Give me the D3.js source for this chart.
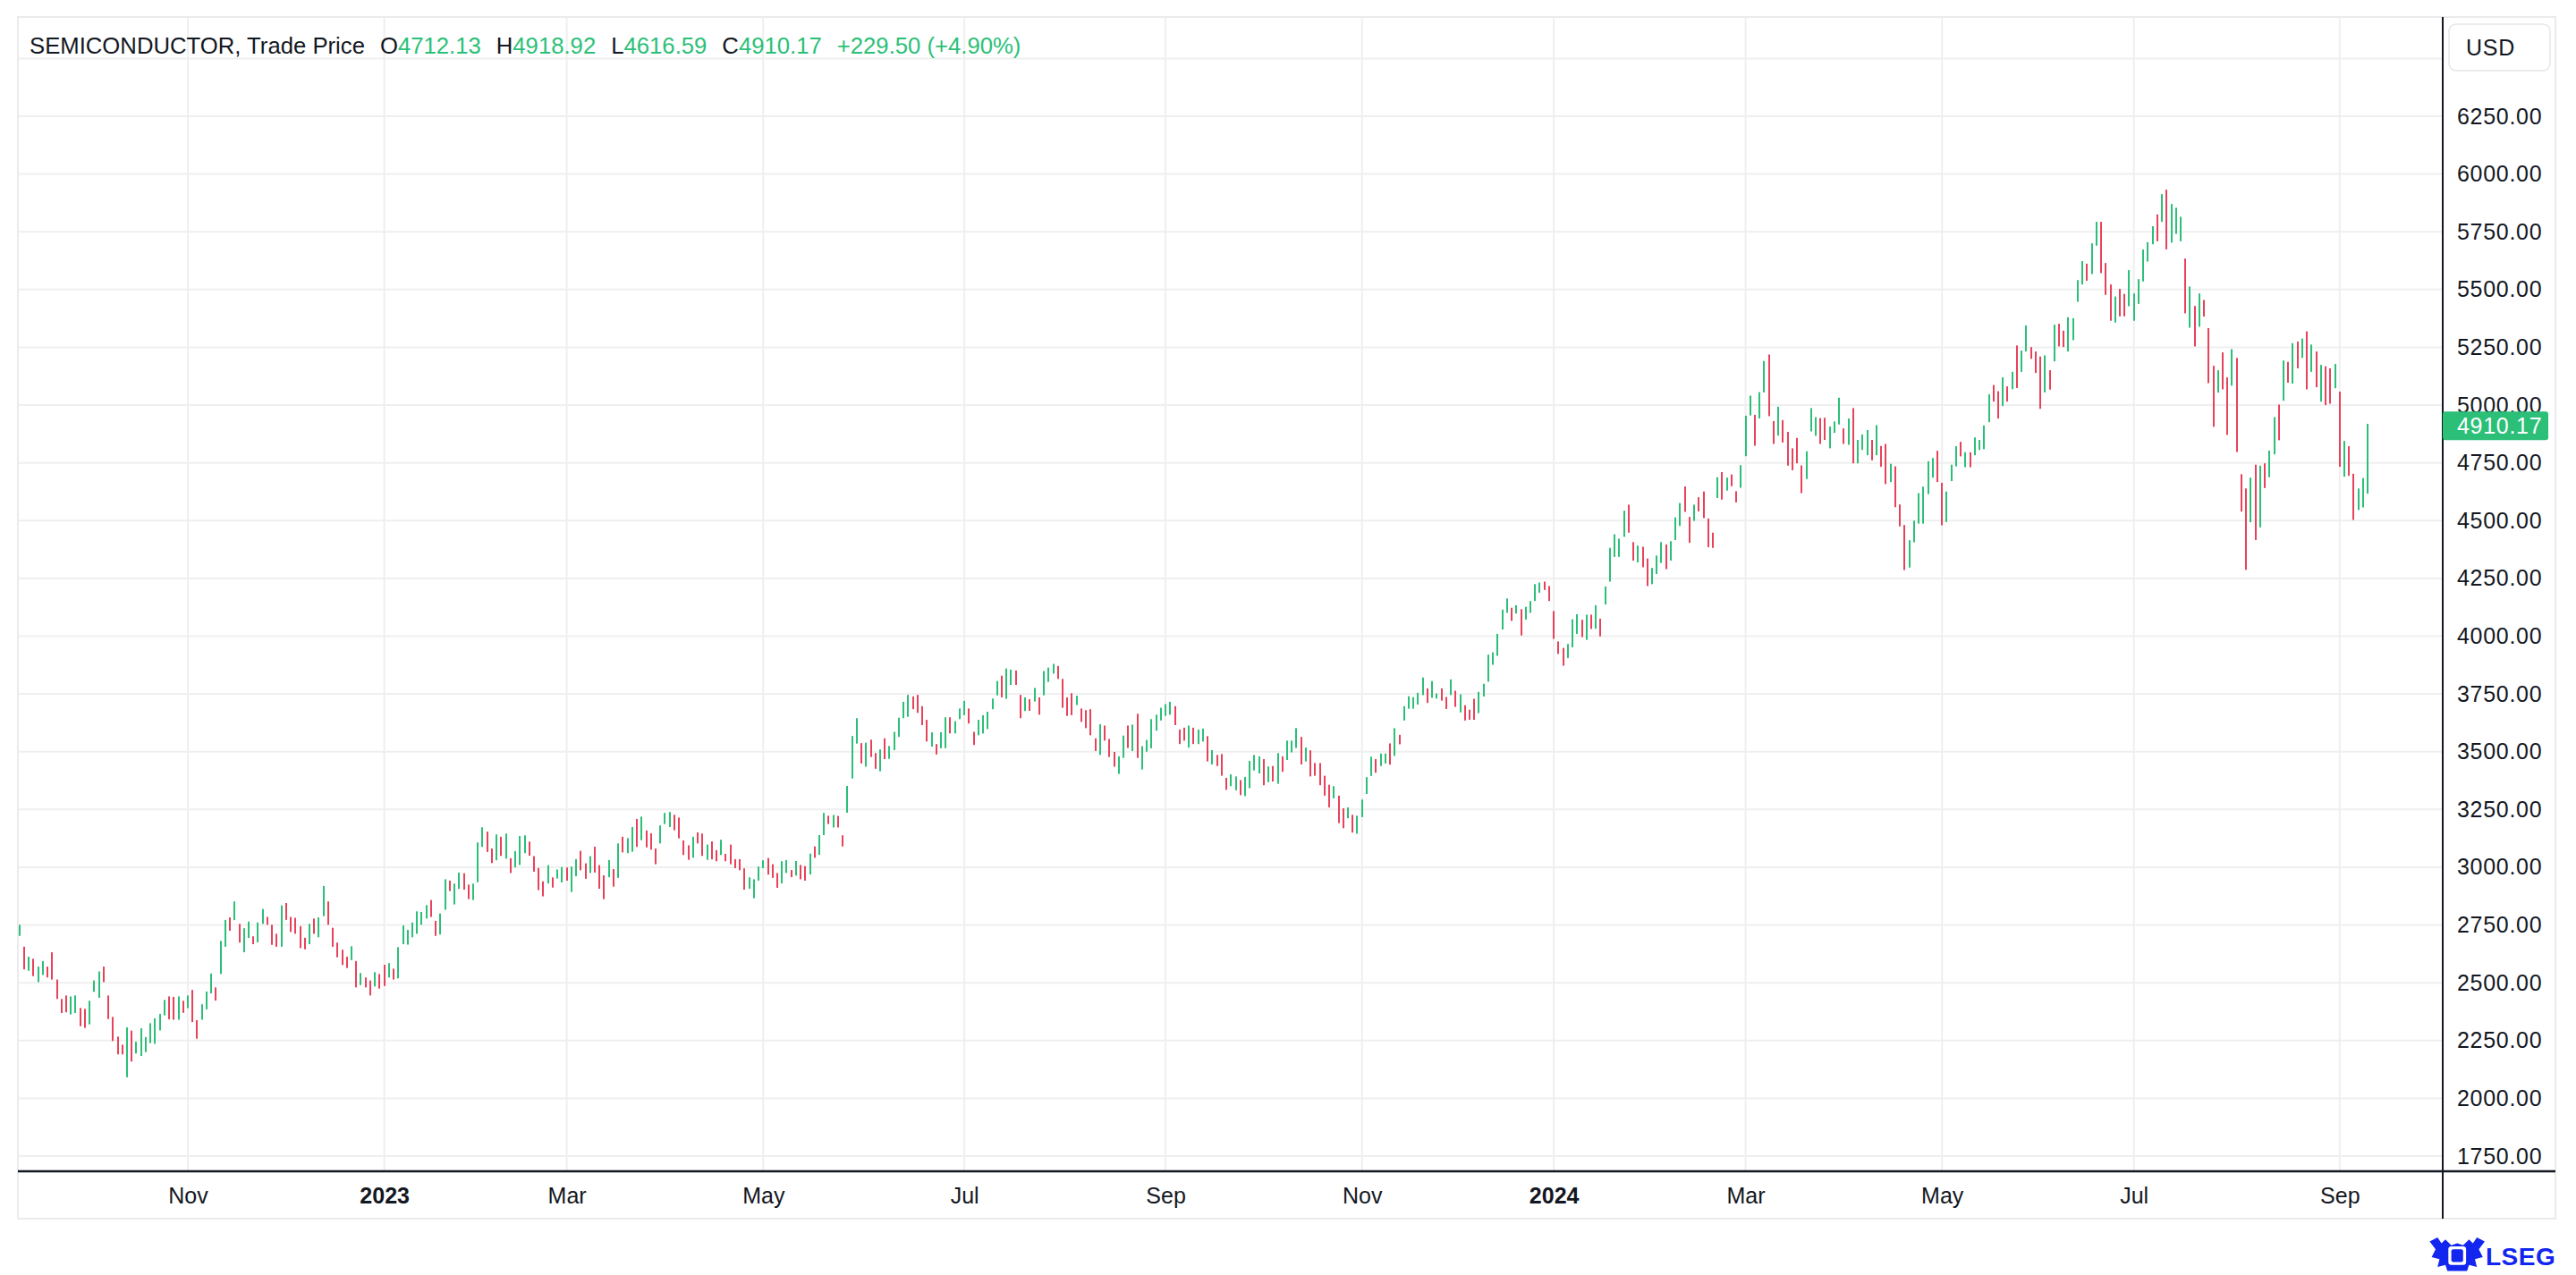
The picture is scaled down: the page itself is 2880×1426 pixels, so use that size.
<!DOCTYPE html>
<html>
<head>
<meta charset="utf-8">
<script src="https://cdn.jsdelivr.net/npm/d3@7"></script>
<style>
  html, body { margin: 0; padding: 0; background: #fff; }
  svg { display: block; font-family: "Liberation Sans", Arial, Helvetica, sans-serif; }
</style>
</head>
<body>
<div id="chart"></div>
<script>
// Daily bars, 12 Sep 2022 .. 11 Sep 2024 (one row per month)
const highs = [
  2751,2656,2613,2604,2570,2594,2570,2632,2514,2430,2445,2441,2445,2391,2387, // Sep 22
  2422,2510,2549,2570,2445,2352,2267,2232,2307,2293,2245,2303,2265,2325,2346,2365,2426,2441,2439,2441,2422, // Oct
  2445,2469,2338,2407,2462,2540,2480,2681,2772,2783,2852,2755,2736,2765,2701,2761,2819,2785,2751,2712,2835, // Nov
  2845,2785,2781,2745,2695,2755,2778,2783,2919,2852,2738,2674,2643,2613,2658,2594,2542,2523,2510,2546,2538, // Dec
  2578,2585,2561,2654,2748,2729,2761,2809,2806,2836,2858,2768,2800,2948,2942,2929,2977,2974,2925,2929, // Jan 23
  3107,3173,3154,3081,3142,3132,3146,3039,3070,3135,3138,3111,3048,2997,2939,3009,2956,2990,3001, // Feb
  2999,3003,3035,3071,3017,3048,3089,3009,2965,3031,2992,3103,3132,3126,3174,3209,3219,3159,3147,3081,3181,3235,3239, // Mar
  3227,3215,3116,3095,3132,3151,3146,3098,3112,3074,3119,3058,3098,3035,3035,2995,2956,2948,3003, // Apr
  3030,3040,3013,2975,3026,3031,2988,3027,3010,3005,3059,3090,3139,3235,3223,3226,3222,3138,3352,3568,3645,3537, // May
  3539,3552,3494,3510,3558,3525,3586,3647,3716,3746,3739,3746,3697,3638,3584,3533,3584,3649,3649,3632,3687, // Jun
  3720,3687,3586,3638,3658,3673,3730,3806,3829,3860,3855,3851,3746,3735,3727,3776,3735,3849,3864,3880, // Jul
  3871,3815,3735,3753,3742,3687,3680,3684,3558,3619,3613,3555,3499,3480,3570,3613,3617,3664,3524,3551,3641,3660,3690, // Aug
  3706,3716,3697,3596,3604,3613,3604,3596,3600,3567,3507,3486,3490,3387,3402,3393,3377,3391,3460,3486, // Sep
  3480,3468,3436,3438,3494,3480,3548,3548,3602,3564,3518,3506,3451,3451,3396,3357,3351,3310,3255,3259,3227,3223, // Oct
  3293,3390,3478,3468,3492,3492,3536,3602,3573,3697,3740,3736,3755,3821,3774,3806,3752,3774,3737,3813,3764, // Nov
  3748,3701,3682,3729,3759,3794,3920,3930,4010,4115,4163,4123,4134,4117,4127,4152,4225,4232,4236,4217, // Dec
  4109,3977,3949,3966,4073,4095,4071,4093,4093,4134,4076,4215,4382,4441,4422,4543,4569,4407,4392,4387,4336, // Jan 24
  4295,4349,4407,4397,4411,4514,4576,4648,4516,4569,4601,4626,4509,4448,4688,4710,4686,4700,4627,4740, // Feb
  4954,5041,4958,5056,5191,5219,4931,4993,4935,4884,4813,4858,4739,4800,4987,4948,4944,4945,4907,4929, // Mar
  5032,4899,4942,4987,4849,4873,4892,4849,4913,4823,4832,4746,4735,4570,4481,4415,4500,4619,4647,4757,4771,4802, // Apr
  4664,4626,4742,4822,4841,4796,4796,4860,4849,4912,5047,5087,5060,5120,5081,5144,5258,5236,5345,5251,5232,5210, // May
  5215,5151,5348,5352,5322,5380,5376,5541,5623,5612,5700,5793,5793,5615,5522,5470,5503,5481,5584, // Jun
  5483,5545,5673,5705,5774,5825,5913,5932,5870,5854,5815,5634,5513,5429,5483,5455,5333,5170,5151,5228,5120,5242, // Jul
  5204,4701,4639,4686,4742,4738,4748,4803,4948,5002,5193,5187,5268,5275,5288,5319,5262,5232,5174,5168,5159,5178, // Aug
  5058,4845,4822,4703,4639,4684,4918.92 // Sep
];

const lows = [
  2703,2558,2552,2529,2503,2534,2523,2514,2430,2369,2372,2363,2369,2312,2305,
  2320,2461,2435,2503,2343,2248,2190,2190,2091,2159,2194,2183,2200,2239,2236,2294,2359,2342,2340,2340,2370,
  2390,2330,2258,2340,2385,2454,2423,2538,2656,2725,2771,2674,2632,2694,2667,2675,2755,2751,2664,2656,2656,
  2772,2720,2712,2650,2645,2667,2712,2697,2788,2751,2656,2610,2577,2564,2598,2480,2490,2480,2445,2484,2475,
  2486,2523,2514,2519,2667,2665,2697,2712,2751,2778,2785,2703,2709,2816,2897,2839,2906,2903,2862,2858,
  2935,3088,3066,3018,3030,3049,3037,2975,2999,3010,3061,3050,2981,2901,2874,2930,2912,2951,2934,
  2942,2893,2961,2987,2950,2975,2977,2907,2862,2957,2916,2954,3064,3061,3067,3088,3117,3086,3076,3013,3103,3187,3174,
  3160,3125,3053,3032,3041,3103,3049,3032,3034,3026,3053,3026,3013,2996,2987,2903,2907,2866,2942,
  2996,2968,2954,2911,2930,2975,2957,2964,2948,2942,2969,3041,3054,3139,3187,3172,3172,3090,3236,3384,3535,3449,
  3435,3477,3426,3415,3468,3469,3507,3564,3645,3651,3684,3668,3615,3544,3522,3488,3515,3515,3579,3579,3641,
  3658,3622,3529,3571,3579,3598,3684,3744,3735,3729,3789,3789,3645,3676,3677,3717,3660,3744,3802,3838,
  3815,3690,3655,3658,3702,3629,3602,3571,3503,3486,3548,3477,3435,3404,3473,3516,3503,3473,3423,3500,3515,3591,3635,
  3655,3660,3615,3533,3548,3518,3533,3533,3544,3458,3445,3438,3396,3335,3351,3333,3312,3308,3342,3419,
  3406,3355,3368,3371,3361,3413,3464,3497,3516,3445,3458,3393,3396,3355,3310,3259,3298,3191,3169,3212,3150,3145,
  3217,3317,3395,3409,3438,3449,3444,3482,3532,3635,3686,3686,3704,3745,3711,3733,3730,3721,3685,3745,3694,
  3670,3635,3638,3638,3667,3739,3803,3876,3915,4029,4101,4066,4098,4003,4072,4101,4152,4188,4200,4152,
  3988,3923,3872,3905,3952,4010,3996,3984,4031,4032,3999,4137,4236,4343,4343,4430,4448,4327,4319,4298,4217,
  4225,4269,4317,4290,4327,4416,4477,4538,4404,4499,4540,4511,4385,4382,4598,4591,4630,4649,4579,4642,
  4779,4955,4824,4942,5055,4952,4832,4868,4838,4738,4718,4748,4619,4680,4886,4867,4832,4849,4813,4880,
  4916,4832,4828,4748,4748,4806,4783,4761,4783,4733,4658,4667,4558,4475,4286,4297,4406,4487,4487,4615,4686,4667,
  4480,4494,4671,4735,4778,4731,4731,4783,4806,4809,4926,5015,4942,4996,5015,5069,5074,5144,5232,5200,5139,4984,
  5055,5067,5189,5254,5251,5232,5281,5447,5522,5538,5567,5690,5571,5477,5365,5357,5384,5384,5428,
  5365,5438,5535,5621,5696,5709,5793,5674,5703,5741,5709,5397,5335,5254,5339,5383,5095,4906,5054,5068,4871,5084,
  4797,4539,4287,4493,4416,4471,4641,4688,4787,4848,5019,5097,5093,5159,5204,5068,5144,5077,5015,5000,5006,5073,
  4733,4690,4694,4503,4546,4557,4616.59
];

// u = closed up (green), d = closed down (red)
const moves = [
  'u d u d u u d d d d d u u d d',
  'u u u d d d d d u d u u u u u u u d d u d',
  'u d d u u u d u u d u d u u d u u d d d u',
  'd d d d d u d u u d d d d d u d u d d u d',
  'd u d u u u u u u u d d u u d u u d d u',
  'u u d d u d u d u u u d d d d u d u u',
  'd u u d d u d d d u d u d u u d u d d d u u u',
  'd d d d u d d u d d u d d d d d u u u',
  'u d d d u u d u d d u d u u d u d d u u u d',
  'u d d u d u u u u u d d d d u d u u d u u',
  'u d d u u u u u d u u d d u d u d u u u',
  'd d d d u d d d d u d d d u u d u d u u u u u',
  'u u d d d u d u u d u d d d u u d u u u',
  'u d u d u d u u u d u d d d d d u d d u d u',
  'u u u d u u d u d u u u u u d u u d d u d',
  'u d d d u u u u u u u d u d u u u u d d',
  'd d d u u u d u d u d u u u u u d d u d d',
  'u u u d u u u d d u d d d d u d u d d u',
  'u u d u u d d u d d d d d u u u d d u u',
  'u d u d u u u d u d d u d d d u u u u u u d',
  'd u u u d u d u u u u d d u d u d u u d d d',
  'u d u d d u u u u d u u d d d u d d u',
  'u u u u u d u d u u u d u d u d d d u d d u',
  'd d d u d u d u u d u d u d u d u d u d d u',
  'd u d d u u u'
].join(' ').split(/\s+/);

// Month ticks: bar index of the first session of the month
const tickIdx = [36, 78, 117, 159, 202, 245, 287, 328, 369, 411, 452, 496];
const tickLabels = ['Nov', '2023', 'Mar', 'May', 'Jul', 'Sep', 'Nov', '2024', 'Mar', 'May', 'Jul', 'Sep'];
const priceTicks = d3.range(1750, 6251, 250);
const gridPrices = d3.range(1750, 6501, 250);

// Header quote
const title = 'SEMICONDUCTOR, Trade Price';
const quoteKeys = ['O', 'H', 'L', 'C'];
const quoteValues = ['4712.13', '4918.92', '4616.59', '4910.17'];
const changeText = '+229.50 (+4.90%)';
const lastClose = 4910.17;

const upColor = '#2bbf78';
const downColor = '#e8425b';
const inkColor = '#131722';
const gridColor = '#efefef';
const brandColor = '#1226f0';

const width = 2880;
const height = 1426;
const plot = { left: 20, right: 2731, top: 19, bottom: 1310 };
const panelRight = 2857;
const stripBottom = 1363;

const svg = d3.select('#chart')
    .append('svg')
    .attr('width', width)
    .attr('height', height);

// Scales
const xScale = d3.scaleLinear()
    .domain([-0.325, 518.03])
    .range([plot.left, plot.right]);

const yScale = d3.scaleLinear()
    .domain([1750, 6250])
    .range([1293, 130]);

// Outer frame
svg.append('rect')
    .attr('x', plot.left)
    .attr('y', plot.top)
    .attr('width', panelRight - plot.left)
    .attr('height', stripBottom - plot.top)
    .attr('fill', 'none')
    .attr('stroke', '#ebebeb')
    .attr('stroke-width', 2);

// Grid
const grid = svg.append('g').attr('class', 'grid');

grid.selectAll('.h-grid')
    .data(gridPrices)
    .enter()
    .append('line')
    .attr('class', 'h-grid')
    .attr('x1', plot.left)
    .attr('x2', plot.right)
    .attr('y1', d => yScale(d))
    .attr('y2', d => yScale(d))
    .style('stroke', gridColor)
    .style('stroke-width', 2);

grid.selectAll('.v-grid')
    .data(tickIdx)
    .enter()
    .append('line')
    .attr('class', 'v-grid')
    .attr('x1', d => xScale(d))
    .attr('x2', d => xScale(d))
    .attr('y1', plot.top)
    .attr('y2', plot.bottom)
    .style('stroke', gridColor)
    .style('stroke-width', 2);

// Bars (high-low)
svg.append('g')
    .attr('class', 'bars')
    .selectAll('rect')
    .data(highs.map((h, i) => ({ i, high: h, low: lows[i], up: moves[i] === 'u' })))
    .enter()
    .append('rect')
    .attr('x', d => Math.round(xScale(d.i)) - 1)
    .attr('y', d => yScale(d.high))
    .attr('width', 2)
    .attr('height', d => Math.max(1, yScale(d.low) - yScale(d.high)))
    .style('fill', d => d.up ? upColor : downColor);

// Y axis (right)
const yAxis = d3.axisRight(yScale)
    .tickValues(priceTicks)
    .tickFormat(d3.format('.2f'))
    .tickSize(0)
    .tickPadding(16);

const yAxisG = svg.append('g')
    .attr('class', 'y-axis')
    .attr('transform', `translate(${plot.right},0)`)
    .call(yAxis);
yAxisG.select('.domain').remove();
yAxisG.selectAll('text')
    .attr('fill', inkColor)
    .style('font-size', '25px')
    .style('letter-spacing', '0.7px');

// X axis (bottom)
const xAxis = d3.axisBottom(xScale)
    .tickValues(tickIdx)
    .tickFormat((d, i) => tickLabels[i])
    .tickSize(0)
    .tickPadding(18);

const xAxisG = svg.append('g')
    .attr('class', 'x-axis')
    .attr('transform', `translate(0,${plot.bottom})`)
    .call(xAxis);
xAxisG.select('.domain').remove();
xAxisG.selectAll('text')
    .attr('fill', inkColor)
    .style('font-size', '25px')
    .style('font-weight', (d, i) => /^\d{4}$/.test(tickLabels[i]) ? 'bold' : 'normal');

// Axis lines
svg.append('line')
    .attr('x1', plot.left)
    .attr('x2', panelRight)
    .attr('y1', plot.bottom)
    .attr('y2', plot.bottom)
    .style('stroke', inkColor)
    .style('stroke-width', 2.5);

svg.append('line')
    .attr('x1', plot.right)
    .attr('x2', plot.right)
    .attr('y1', plot.top)
    .attr('y2', stripBottom)
    .style('stroke', inkColor)
    .style('stroke-width', 2);

// Last price tag
const tagY = yScale(lastClose);
svg.append('rect')
    .attr('x', plot.right)
    .attr('y', tagY - 16)
    .attr('width', 118)
    .attr('height', 32)
    .attr('rx', 3)
    .style('fill', upColor);
svg.append('text')
    .attr('x', plot.right + 16)
    .attr('y', tagY)
    .attr('dy', '0.35em')
    .attr('fill', '#fff')
    .style('font-size', '25px')
    .style('letter-spacing', '0.7px')
    .text(d3.format('.2f')(lastClose));

// Currency box
svg.append('rect')
    .attr('x', 2738)
    .attr('y', 27)
    .attr('width', 113)
    .attr('height', 52)
    .attr('rx', 8)
    .style('fill', '#fff')
    .style('stroke', '#e6e6e6')
    .style('stroke-width', 1.5);
svg.append('text')
    .attr('x', 2757)
    .attr('y', 53)
    .attr('dy', '0.35em')
    .attr('fill', inkColor)
    .style('font-size', '25px')
    .style('letter-spacing', '0.7px')
    .text('USD');

// Header legend
const header = svg.append('g').attr('class', 'header').style('font-size', '25.7px');
let hx = 33;
const headerY = 60;
const titleText = header.append('text')
    .attr('x', hx)
    .attr('y', headerY)
    .attr('fill', inkColor)
    .text(title);
hx += titleText.node().getComputedTextLength() + 17;

quoteKeys.forEach((k, i) => {
    const t = header.append('text')
        .attr('x', hx)
        .attr('y', headerY);
    t.append('tspan').attr('fill', inkColor).text(k);
    t.append('tspan').attr('fill', upColor).text(quoteValues[i]);
    hx += t.node().getComputedTextLength() + 17;
});

header.append('text')
    .attr('x', hx)
    .attr('y', headerY)
    .attr('fill', upColor)
    .text(changeText);

// LSEG mark
const logo = svg.append('g')
    .attr('class', 'logo')
    .attr('transform', 'translate(2712,1384) scale(1.1)');
logo.append('path')
    .attr('d', 'M4,4 L12,0 L16,6 L20,2 L26,8 L32,6 L38,8 L44,2 L48,6 L52,0 L60,4 L54,12 L58,20 L50,22 L52,30 L44,28 L42,34 L22,34 L20,28 L12,30 L14,22 L6,20 L10,12 Z')
    .style('fill', brandColor);
logo.append('rect')
    .attr('x', 23).attr('y', 9).attr('width', 18).attr('height', 19).attr('rx', 3)
    .style('fill', '#fff');
logo.append('rect')
    .attr('x', 26).attr('y', 12).attr('width', 12).attr('height', 13).attr('rx', 2)
    .style('fill', brandColor);
svg.append('text')
    .attr('x', 2779)
    .attr('y', 1415)
    .attr('fill', brandColor)
    .style('font-size', '28px')
    .style('font-weight', 'bold')
    .style('letter-spacing', '0.5px')
    .text('LSEG');
</script>
</body>
</html>
